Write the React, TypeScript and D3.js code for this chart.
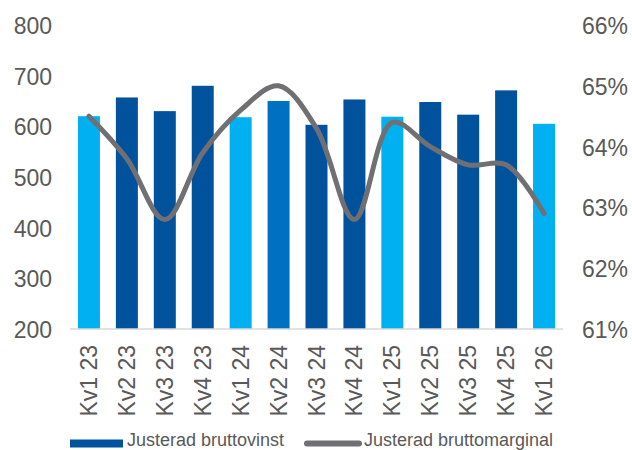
import { useEffect, useRef } from "react";
import * as d3 from "d3";

const categories = [
  "Kv1 23", "Kv2 23", "Kv3 23", "Kv4 23", "Kv1 24", "Kv2 24", "Kv3 24",
  "Kv4 24", "Kv1 25", "Kv2 25", "Kv3 25", "Kv4 25", "Kv1 26",
];
const bruttovinst = [620, 657, 630, 680, 618, 650, 603, 653, 619, 648, 623, 671, 605];
const bruttomarginal = [64.5, 63.8, 62.8, 63.9, 64.6, 65.0, 64.3, 62.8, 64.4, 64.0, 63.7, 63.7, 62.9];
const barColors = [
  "#00B0F0", "#00529C", "#00529C", "#00529C", "#00B0F0", "#0070C0", "#00529C",
  "#00529C", "#00B0F0", "#00529C", "#00529C", "#00529C", "#00B0F0",
];
const leftTicks = [200, 300, 400, 500, 600, 700, 800];
const rightTicks = [61, 62, 63, 64, 65, 66];

const W = 632;
const H = 450;
const FONT = "'Liberation Sans', Arial, sans-serif";
const TEXT = "#595959";

const App = () => {
  const svgRef = useRef<SVGSVGElement>(null);

  useEffect(() => {
    const svg = d3.select(svgRef.current);
    svg.selectAll("*").remove();

    const left = 70;
    const right = 563;
    const top = 25;
    const bottom = 329;

    const x = d3.scaleBand().domain(categories).range([left, right]).paddingInner(0.42).paddingOuter(0.21);
    const yL = d3.scaleLinear().domain([200, 800]).range([bottom, top]);
    const yR = d3.scaleLinear().domain([61, 66]).range([bottom, top]);

    // bars
    svg
      .append("g")
      .selectAll("rect")
      .data(bruttovinst)
      .enter()
      .append("rect")
      .attr("x", (d, i) => x(categories[i]))
      .attr("y", (d) => yL(d))
      .attr("width", x.bandwidth())
      .attr("height", (d) => yL(200) - yL(d))
      .attr("fill", (d, i) => barColors[i]);

    // baseline
    svg
      .append("line")
      .attr("x1", left)
      .attr("x2", right)
      .attr("y1", bottom)
      .attr("y2", bottom)
      .attr("stroke", "#D9D9D9")
      .attr("stroke-width", 1.5);

    // margin line
    const line = d3
      .line<number>()
      .x((d, i) => x(categories[i]) + x.bandwidth() / 2)
      .y((d) => yR(d))
      .curve(d3.curveCatmullRom.alpha(0.5));
    svg
      .append("path")
      .datum(bruttomarginal)
      .attr("d", line)
      .attr("fill", "none")
      .attr("stroke", "#707074")
      .attr("stroke-width", 5)
      .attr("stroke-linecap", "round")
      .attr("stroke-linejoin", "round");

    // left axis
    svg
      .append("g")
      .selectAll("text")
      .data(leftTicks)
      .enter()
      .append("text")
      .attr("x", 52)
      .attr("y", (d) => yL(d) + 1)
      .attr("dy", "0.35em")
      .attr("text-anchor", "end")
      .attr("font-family", FONT)
      .attr("font-size", 23)
      .attr("fill", TEXT)
      .text((d) => d);

    // right axis
    svg
      .append("g")
      .selectAll("text")
      .data(rightTicks)
      .enter()
      .append("text")
      .attr("x", 582)
      .attr("y", (d) => yR(d) + 1)
      .attr("dy", "0.35em")
      .attr("text-anchor", "start")
      .attr("font-family", FONT)
      .attr("font-size", 23)
      .attr("fill", TEXT)
      .text((d) => `${d}%`);

    // category labels
    svg
      .append("g")
      .selectAll("text")
      .data(categories)
      .enter()
      .append("text")
      .attr("transform", (d) => `translate(${x(d) + x.bandwidth() / 2},345) rotate(-90)`)
      .attr("dy", "0.35em")
      .attr("text-anchor", "end")
      .attr("font-family", FONT)
      .attr("font-size", 23)
      .attr("fill", TEXT)
      .text((d) => d);

    // legend
    const lg = svg.append("g").attr("font-family", FONT).attr("font-size", 18).attr("fill", TEXT);
    lg.append("rect").attr("x", 70).attr("y", 439.5).attr("width", 53).attr("height", 8).attr("fill", "#00529C");
    lg.append("text").attr("x", 127).attr("y", 446).text("Justerad bruttovinst");
    lg.append("line")
      .attr("x1", 307)
      .attr("x2", 359)
      .attr("y1", 443.5)
      .attr("y2", 443.5)
      .attr("stroke", "#707074")
      .attr("stroke-width", 6)
      .attr("stroke-linecap", "round");
    lg.append("text").attr("x", 364).attr("y", 446).text("Justerad bruttomarginal");
  }, []);

  return (
    <svg
      ref={svgRef}
      width={W}
      height={H}
      style={{ position: "absolute", left: 0, top: 0, background: "#fff" }}
    ></svg>
  );
};

export default App;
